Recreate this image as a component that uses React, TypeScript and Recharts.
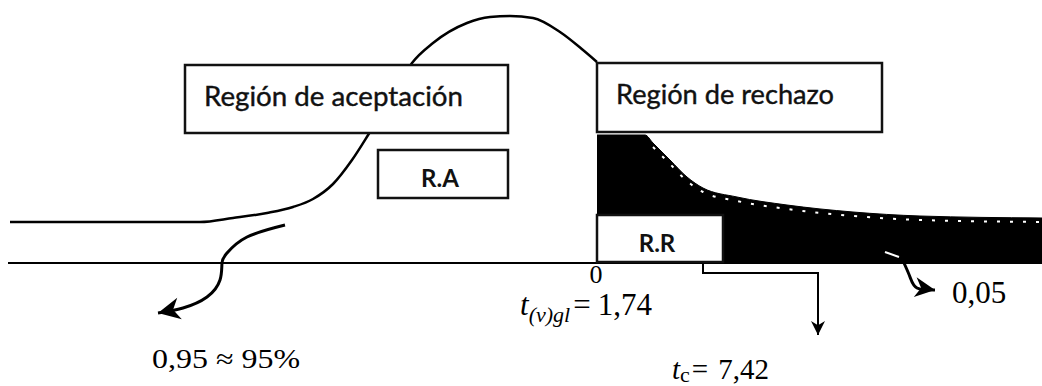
import React from "react";
import {
  ComposedChart,
  Line,
  Area,
  Scatter,
  XAxis,
  YAxis,
  ReferenceArea,
  ReferenceLine,
} from "recharts";

// diagram units: t along the axis (0 = the "0" mark), h = height above the axis
const bellT = [-5.87, -4.97, -3.97, -3.64, -3.3, -3.04, -2.84, -2.64, -2.45, -2.27, -2.05, -1.85, -1.64, -1.3, -1.07, -0.87, -0.64, -0.37, -0.14, 0];
const bellH = [0.41, 0.41, 0.41, 0.45, 0.5, 0.56, 0.64, 0.79, 1.03, 1.31, 1.66, 2.0, 2.2, 2.4, 2.46, 2.47, 2.45, 2.31, 2.13, 2.01];

const tailT = [0, 0.48, 0.56, 0.73, 0.9, 1.06, 1.4, 1.9, 2.56, 3.23, 4.45];
const tailH = [1.28, 1.28, 1.2, 1.03, 0.86, 0.75, 0.66, 0.58, 0.51, 0.47, 0.45];

const boxNames = ["Región de aceptación", "Región de rechazo", "R.A", "R.R"];
const boxT1 = [-4.12, 0, -2.19, 0];
const boxT2 = [-0.89, 2.85, -0.89, 1.26];
const boxTop = [1.98, 2.0, 1.13, 0.48];
const boxBottom = [1.3, 1.31, 0.65, 0.01];

const noteNames = ["0,95 ≈ 95%", "t(v)gl = 1,74", "tc = 7,42", "0,05", "0"];
const noteT = [-4.45, -0.77, 0.75, 3.55, -0.01];
const noteH = [-1.05, -0.52, -1.16, -0.4, -0.2];

const leftArrowT = [-3.12, -3.5, -3.7, -3.75, -3.77, -3.9, -4.14, -4.39];
const leftArrowH = [0.38, 0.26, 0.1, 0, -0.17, -0.34, -0.45, -0.5];

const rightArrowT = [3.07, 3.13, 3.2, 3.38];
const rightArrowH = [0, -0.14, -0.25, -0.27];

const streakT = [2.88, 3.02];
const streakH = [0.11, 0.06];

const bracketT = [1.06, 1.06, 2.21, 2.21];
const bracketH = [0.03, -0.1, -0.1, -0.72];

const axisFrom = -5.89;
const axisTo = 4.45;

const toRows = (t: number[], h: number[]) => t.map((x, i) => ({ x, y: h[i] }));

const bell = toRows(bellT, bellH);
const tail = toRows(tailT, tailH);
const tailEdge = toRows(tailT.slice(2), tailH.slice(2).map((v) => v - 0.04));
const notes = noteT.map((x, i) => ({ x, y: noteH[i], name: noteNames[i] }));

const SERIF = "'Liberation Serif', 'Times New Roman', serif";
const SANS = "Lato, 'Open Sans', sans-serif";

const arrowHead = (angle: number, size: number, last: number) => (p: any) => {
  if (p.index !== last) return <g key={`d-${p.index}`} />;
  return (
    <path
      key={`d-${p.index}`}
      d={`M0,0 L${-size},${-size * 0.5} L${-size * 0.7},0 L${-size},${size * 0.5} Z`}
      transform={`translate(${p.cx},${p.cy}) rotate(${angle})`}
      fill="#000"
    />
  );
};

const renderBoxLabel = (i: number) => (p: any) => {
  const vb = p.viewBox;
  if (!vb) return null;
  if (i < 2) {
    const widths = [259, 218];
    return (
      <text
        x={vb.x + 19}
        y={vb.y + 41}
        fontFamily={SANS}
        fontSize={27}
        fill="#111"
        stroke="#111"
        strokeWidth={0.4}
        textLength={widths[i]}
        lengthAdjust="spacingAndGlyphs"
      >
        {boxNames[i]}
      </text>
    );
  }
  return (
    <text
      x={vb.x + vb.width / 2 - 3}
      y={vb.y + 37}
      textAnchor="middle"
      fontFamily={SANS}
      fontWeight="bold"
      fontSize={24}
      fill="#111"
    >
      {boxNames[i]}
    </text>
  );
};

const renderNote = (p: any) => {
  const { cx, cy, payload } = p;
  const name = payload.name;
  if (name.startsWith("t(v)")) {
    return (
      <text x={cx} y={cy} fontFamily={SERIF} fontSize={31} fill="#000">
        <tspan fontStyle="italic">t</tspan>
        <tspan fontStyle="italic" fontSize={22} dy={7}>(v)gl</tspan>
        <tspan dy={-7} dx={3}>=</tspan>
        <tspan dx={7}>1,74</tspan>
      </text>
    );
  }
  if (name.startsWith("tc")) {
    return (
      <text x={cx} y={cy} fontFamily={SERIF} fontSize={29} fill="#000">
        <tspan fontStyle="italic">t</tspan>
        <tspan fontSize={22} dy={3}>c</tspan>
        <tspan dy={-3} dx={2}>=</tspan>
        <tspan dx={10}>7,42</tspan>
      </text>
    );
  }
  if (name === "0") {
    return (
      <text x={cx} y={cy} textAnchor="middle" fontFamily={SERIF} fontSize={26} fill="#000">
        0
      </text>
    );
  }
  if (name === "0,05") {
    return (
      <text x={cx} y={cy} fontFamily={SERIF} fontSize={31} fill="#000">
        {name}
      </text>
    );
  }
  return (
    <text
      x={cx}
      y={cy}
      fontFamily={SERIF}
      fontSize={27}
      fill="#000"
      textLength={148}
      lengthAdjust="spacingAndGlyphs"
    >
      {name}
    </text>
  );
};

export default function App() {
  return (
    <div style={{ position: "absolute", left: 0, top: 0, width: 1042, height: 386, background: "#fff" }}>
      <ComposedChart width={1042} height={386} margin={{ top: 0, right: 0, bottom: 0, left: 0 }}>
        <XAxis type="number" dataKey="x" domain={[-5.97, 4.45]} allowDataOverflow hide />
        <YAxis type="number" dataKey="y" domain={[-1.23, 2.63]} allowDataOverflow hide />

        <Area
          data={tail}
          dataKey="y"
          type="monotone"
          baseValue={0}
          fill="#000"
          fillOpacity={1}
          stroke="#000"
          strokeWidth={1}
          activeDot={false}
          isAnimationActive={false}
        />
        <Line
          data={tailEdge}
          dataKey="y"
          type="monotone"
          stroke="#fff"
          strokeWidth={2}
          strokeDasharray="3 10"
          dot={false}
          activeDot={false}
          isAnimationActive={false}
        />
        <ReferenceLine
          segment={[{ x: axisFrom, y: 0 }, { x: axisTo, y: 0 }]}
          stroke="#000"
          strokeWidth={2}
          ifOverflow="visible"
        />
        <Line
          data={bell}
          dataKey="y"
          type="monotone"
          stroke="#000"
          strokeWidth={2.5}
          dot={false}
          activeDot={false}
          isAnimationActive={false}
        />
        <Line
          data={toRows(leftArrowT, leftArrowH)}
          dataKey="y"
          type="natural"
          stroke="#000"
          strokeWidth={3}
          dot={arrowHead(168, 22, leftArrowT.length - 1)}
          activeDot={false}
          isAnimationActive={false}
        />
        <Line
          data={toRows(rightArrowT, rightArrowH)}
          dataKey="y"
          type="natural"
          stroke="#000"
          strokeWidth={3}
          dot={arrowHead(8, 20, rightArrowT.length - 1)}
          activeDot={false}
          isAnimationActive={false}
        />
        <Line
          data={toRows(streakT, streakH)}
          dataKey="y"
          type="linear"
          stroke="#fff"
          strokeWidth={2}
          dot={false}
          activeDot={false}
          isAnimationActive={false}
        />
        <Line
          data={toRows(bracketT, bracketH)}
          dataKey="y"
          type="linear"
          stroke="#000"
          strokeWidth={2}
          dot={arrowHead(90, 14, bracketT.length - 1)}
          activeDot={false}
          isAnimationActive={false}
        />

        {boxNames.map((name, i) => (
          <ReferenceArea
            key={name}
            x1={boxT1[i]}
            x2={boxT2[i]}
            y1={boxBottom[i]}
            y2={boxTop[i]}
            fill="#fff"
            fillOpacity={1}
            stroke="#111"
            strokeWidth={2.5}
            ifOverflow="visible"
            zIndex={450}
            label={renderBoxLabel(i)}
          />
        ))}

        <Scatter
          data={notes}
          dataKey="y"
          shape={renderNote}
          activeShape={false}
          isAnimationActive={false}
        />
      </ComposedChart>
    </div>
  );
}
